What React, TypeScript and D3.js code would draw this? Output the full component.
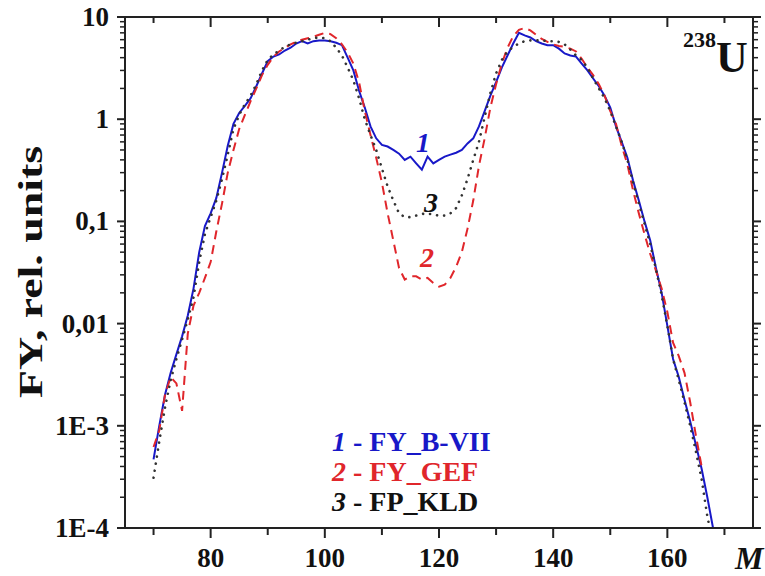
import React from "react";
import * as d3 from "d3";

const massB = [70,71,72,73,74,75,76,77,78,79,80,81,82,83,84,85,86,87,88,89,90,91,92,93,94,95,96,97,98,99,100,101,102,103,104,105,106,107,108,109,110,111,112,113,114,115,116,117,118,119,120,121,122,123,124,125,126,127,128,129,130,131,132,133,134,135,136,137,138,139,140,141,142,143,144,145,146,147,148,149,150,151,152,153,154,155,156,157,158,159,160,161,162,163,164,165,166,167,168,169];
const fyBVII = [4.7e-4,1.0e-3,2.0e-3,3.3e-3,5.0e-3,7.5e-3,0.012,0.022,0.05,0.09,0.12,0.17,0.30,0.55,0.9,1.15,1.35,1.6,2.1,2.8,3.7,4.1,4.3,4.7,5.0,5.5,5.8,5.5,5.8,5.9,5.9,5.8,5.6,5.3,4.0,3.0,1.9,1.3,0.85,0.65,0.56,0.54,0.50,0.46,0.40,0.43,0.37,0.32,0.43,0.37,0.40,0.43,0.45,0.47,0.50,0.58,0.65,0.85,1.2,1.7,2.3,3.2,4.2,5.5,7.0,6.6,6.3,5.8,5.5,5.3,5.3,4.9,4.4,4.2,4.1,3.5,3.0,2.5,2.1,1.7,1.3,0.85,0.6,0.42,0.25,0.16,0.10,0.065,0.035,0.020,0.0095,0.0045,0.0030,0.0018,0.0011,6.5e-4,3.8e-4,2.0e-4,1.0e-4,5.5e-5];

const massG = [70,71,72,73,74,75,76,77,78,79,80,81,82,83,84,85,86,87,88,89,90,91,92,93,94,95,96,97,98,99,100,101,102,103,104,105,106,107,108,109,110,111,112,113,114,115,116,117,118,119,120,121,122,123,124,125,126,127,128,129,130,131,132,133,134,135,136,137,138,139,140,141,142,143,144,145,146,147,148,149,150,151,152,153,154,155,156,157,158,159,160,161,162,163,164,165,166];
const fyGEF = [6.2e-4,9e-4,2.0e-3,3.0e-3,2.6e-3,1.4e-3,8e-3,0.015,0.02,0.028,0.04,0.08,0.15,0.3,0.5,0.8,1.1,1.5,2.0,2.7,3.4,4.1,4.6,5.0,5.4,5.7,6.0,6.2,6.4,6.7,7.0,6.8,6.2,5.4,4.5,3.5,2.3,1.2,0.7,0.42,0.24,0.12,0.065,0.035,0.027,0.029,0.029,0.027,0.028,0.025,0.023,0.024,0.028,0.036,0.05,0.085,0.16,0.35,0.65,1.3,2.2,3.5,5.0,6.5,7.5,7.8,7.4,6.7,6.1,5.7,5.4,5.2,5.1,4.9,4.6,3.9,3.2,2.7,2.2,1.7,1.2,0.9,0.55,0.36,0.2,0.12,0.075,0.048,0.033,0.022,0.013,0.0065,0.0048,0.0033,0.0017,8e-4,4e-4];

const massK = [70,71,72,73,74,75,76,77,78,79,80,81,82,83,84,85,86,87,88,89,90,91,92,93,94,95,96,97,98,99,100,101,102,103,104,105,106,107,108,109,110,111,112,113,114,115,116,117,118,119,120,121,122,123,124,125,126,127,128,129,130,131,132,133,134,135,136,137,138,139,140,141,142,143,144,145,146,147,148,149,150,151,152,153,154,155,156,157,158,159,160,161,162,163,164,165,166,167,168];
const fpKLD = [3.1e-4,7e-4,1.5e-3,2.8e-3,4.5e-3,7e-3,0.011,0.018,0.04,0.075,0.11,0.16,0.26,0.45,0.8,1.1,1.4,1.7,2.2,3.0,3.8,4.3,4.7,5.1,5.4,5.6,5.8,6.0,6.2,6.3,6.2,5.8,5.0,4.2,3.2,2.4,1.6,1.0,0.7,0.5,0.33,0.22,0.16,0.12,0.11,0.11,0.114,0.118,0.12,0.116,0.114,0.114,0.12,0.135,0.18,0.26,0.4,0.6,1.05,1.8,2.8,3.8,4.6,5.1,5.5,5.8,5.9,5.9,5.9,5.8,5.8,5.7,5.4,4.8,4.2,3.8,3.2,2.5,2.0,1.6,1.2,0.85,0.6,0.4,0.24,0.15,0.095,0.06,0.034,0.019,0.0095,0.0045,0.0028,0.0017,0.001,5.6e-4,3e-4,1.3e-4,7e-5];

const xMajorTicks = [80, 100, 120, 140, 160];
const xMinorTicks = [70, 90, 110, 130, 150, 170];
const yDecades = [1e-4, 1e-3, 1e-2, 1e-1, 1, 10];
const yTickLabels = ["1E-4", "1E-3", "0,01", "0,1", "1", "10"];
const legendNames = ["FY_B-VII", "FY_GEF", "FP_KLD"];
const legendNums = ["1", "2", "3"];

const BLUE = "#1818c8";
const RED = "#e0262b";
const BLACK = "#111";

export default function App() {
  const L = 125, R = 753, T = 17, B = 528;
  const x = d3.scaleLinear().domain([65, 175]).range([L, R]);
  const y = d3.scaleLog().domain([1e-4, 10]).range([B, T]);
  const line = d3
    .line<[number, number]>()
    .x((d) => x(d[0]))
    .y((d) => y(d[1]));
  const zip = (m: number[], v: number[]) => m.map((mm, i) => [mm, v[i]] as [number, number]);

  const minorY: number[] = [];
  for (let e = -4; e < 1; e++) for (let k = 2; k <= 9; k++) minorY.push(k * Math.pow(10, e));

  const font = "Liberation Serif";
  const series = [
    { d: zip(massB, fyBVII), color: BLUE, dash: undefined as string | undefined, w: 2 },
    { d: zip(massG, fyGEF), color: RED, dash: "9,6", w: 2 },
    { d: zip(massK, fpKLD), color: "#333", dash: "0.1,7", w: 2.6 },
  ];
  const colors = [BLUE, RED, BLACK];

  return (
    <svg width={765} height={576} style={{ display: "block", position: "absolute", left: 0, top: 0 }} fontFamily={font} fontWeight="bold">
      <rect width={765} height={576} fill="#fff" />
      <defs>
        <clipPath id="plot">
          <rect x={L} y={T} width={R - L} height={B - T} />
        </clipPath>
      </defs>
      <g clipPath="url(#plot)">
        {series.map((s, i) => (
          <path key={i} d={line(s.d) || ""} fill="none" stroke={s.color} strokeWidth={s.w} strokeDasharray={s.dash} strokeLinecap={i === 2 ? "round" : "butt"} />
        ))}
      </g>
      {/* frame */}
      <rect x={L} y={T} width={R - L} height={B - T} fill="none" stroke="#222" strokeWidth={2} />
      {/* x ticks */}
      {xMajorTicks.map((t) => (
        <g key={"xm" + t}>
          <line x1={x(t)} x2={x(t)} y1={B} y2={B + 10} stroke="#222" strokeWidth={2} />
          <line x1={x(t)} x2={x(t)} y1={T} y2={T + 10} stroke="#222" strokeWidth={2} />
          <text x={x(t)} y={567} textAnchor="middle" fontSize={27} fill="#111">{t}</text>
        </g>
      ))}
      {xMinorTicks.map((t) => (
        <g key={"xn" + t}>
          <line x1={x(t)} x2={x(t)} y1={B} y2={B + 7} stroke="#222" strokeWidth={2} />
          <line x1={x(t)} x2={x(t)} y1={T} y2={T + 6} stroke="#222" strokeWidth={2} />
        </g>
      ))}
      {/* y ticks */}
      {yDecades.map((t, i) => (
        <g key={"ym" + i}>
          <line x1={L - 8} x2={L} y1={y(t)} y2={y(t)} stroke="#222" strokeWidth={2} />
          <line x1={R} x2={R + 8} y1={y(t)} y2={y(t)} stroke="#222" strokeWidth={2} />
          <text x={109} y={y(t) + 9} textAnchor="end" fontSize={27} fill="#111">{yTickLabels[i]}</text>
        </g>
      ))}
      {minorY.map((t, i) => (
        <g key={"yn" + i}>
          <line x1={L - 5} x2={L} y1={y(t)} y2={y(t)} stroke="#222" strokeWidth={1.5} />
          <line x1={R} x2={R + 5} y1={y(t)} y2={y(t)} stroke="#222" strokeWidth={1.5} />
        </g>
      ))}
      {/* axis titles */}
      <text transform="translate(42,272) rotate(-90)" textAnchor="middle" fontSize={34} fill="#111" textLength={252} lengthAdjust="spacingAndGlyphs">FY, rel. units</text>
      <text x={735} y={569} fontSize={32} fontStyle="italic" fill="#111">M</text>
      {/* isotope */}
      <text x={683} y={47} fontSize={22} fill="#111">238</text>
      <text x={716} y={72} fontSize={44} fill="#111">U</text>
      {/* curve labels */}
      <text x={423} y={152} textAnchor="middle" fontSize={28} fontStyle="italic" fill={BLUE}>1</text>
      <text x={431} y={212} textAnchor="middle" fontSize={28} fontStyle="italic" fill={BLACK}>3</text>
      <text x={427} y={267} textAnchor="middle" fontSize={28} fontStyle="italic" fill={RED}>2</text>
      {/* legend */}
      {legendNames.map((n, i) => (
        <text key={n} x={332} y={451 + i * 30} fontSize={28} fill={colors[i]}>
          <tspan fontStyle="italic">{legendNums[i]}</tspan>
          <tspan> - {n}</tspan>
        </text>
      ))}
    </svg>
  );
}
